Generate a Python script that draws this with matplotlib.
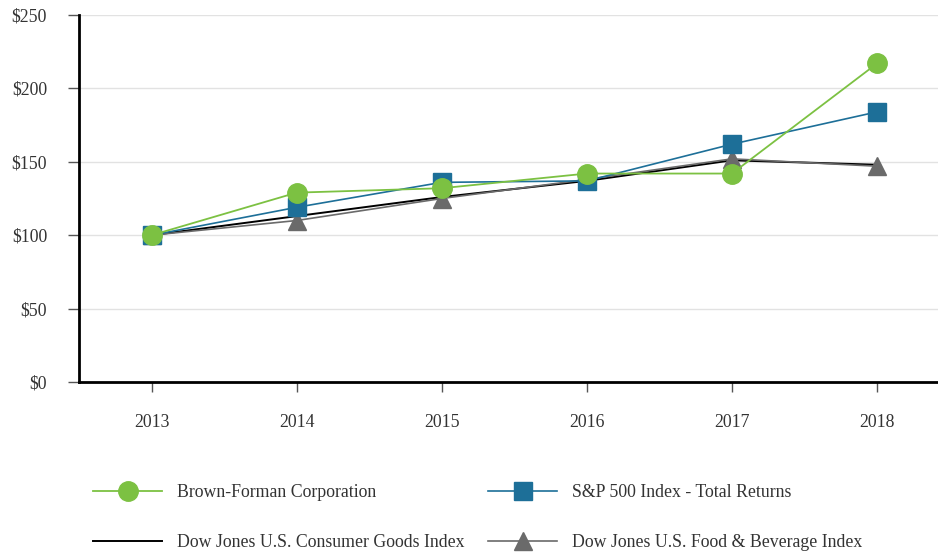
import matplotlib
matplotlib.use("Agg")
import matplotlib.pyplot as plt

years = [2013, 2014, 2015, 2016, 2017, 2018]
brown_forman = [100, 129, 132, 142, 142, 217]
sp500 = [100, 119, 136, 137, 162, 184]
consumer_goods = [100, 113, 126, 137, 151, 148]
food_bev = [100, 110, 125, 138, 152, 147]
y_ticks = [0, 50, 100, 150, 200, 250]
y_labels = ["$0", "$50", "$100", "$150", "$200", "$250"]

plt.rcParams['font.family'] = ['Liberation Serif', 'DejaVu Serif']

fig = plt.figure(figsize=(9.38, 5.56), dpi=100)
ax = fig.add_axes([79/938, 1-382/556, (938-79)/938, (382-15)/556])

green = "#7cc142"
blue = "#1d6f98"
gray = "#6a6a6a"

l_cg, = ax.plot(years, consumer_goods, color="black", lw=1.4, zorder=3,
                label="Dow Jones U.S. Consumer Goods Index")
l_fb, = ax.plot(years, food_bev, color=gray, lw=1.2, marker="^", ms=13,
                zorder=4, label="Dow Jones U.S. Food & Beverage Index")
l_sp, = ax.plot(years, sp500, color=blue, lw=1.2, marker="s", ms=13,
                zorder=5, label="S&P 500 Index - Total Returns")
l_bf, = ax.plot(years, brown_forman, color=green, lw=1.3, marker="o", ms=14,
                zorder=6, label="Brown-Forman Corporation")

ax.set_xlim(2012.5, 2018.42)
ax.set_ylim(0, 250)
ax.set_xticks(years)
ax.set_xticklabels([str(y) for y in years])
ax.set_yticks(y_ticks)
ax.set_yticklabels(y_labels)
ax.tick_params(axis='both', labelsize=12.8, colors="#333333", direction="out")
ax.tick_params(axis='y', length=8, width=1, color="#555555", pad=15)
ax.tick_params(axis='x', length=7, width=1, color="#555555", pad=16)
ax.yaxis.grid(True, color="#e2e2e2", lw=1)
ax.set_axisbelow(True)
for s in ["top", "right"]:
    ax.spines[s].set_visible(False)
for s in ["left", "bottom"]:
    ax.spines[s].set_linewidth(2)
    ax.spines[s].set_color("black")

fig.legend([l_bf, l_cg, l_sp, l_fb],
           [l_bf.get_label(), l_cg.get_label(), l_sp.get_label(), l_fb.get_label()],
           ncol=2, loc="upper left", bbox_to_anchor=(77/938, 1-468/556),
           frameon=False, fontsize=12.8, handlelength=3.9, handletextpad=0.85,
           columnspacing=1.3, labelspacing=1.85, labelcolor="#333333")

fig.savefig("out.png", dpi=100)
